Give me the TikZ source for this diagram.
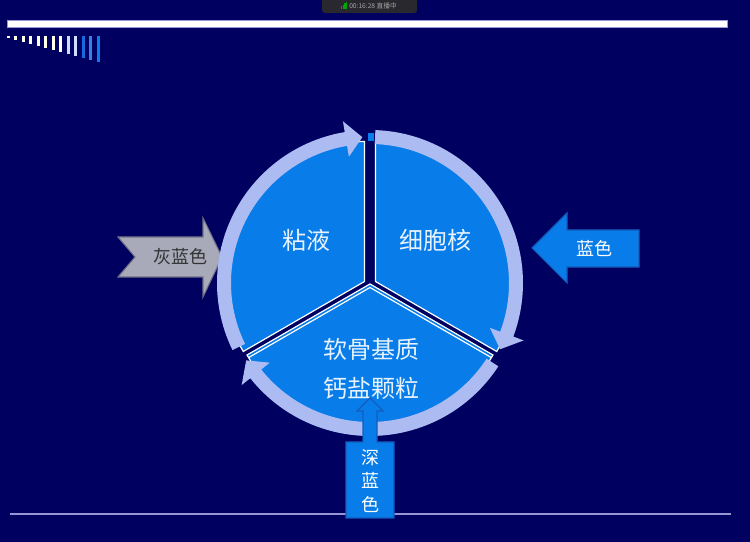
\documentclass[tikz,border=0pt]{standalone}
\usepackage{fontspec}
\newfontfamily\cjk{Noto Sans CJK SC}
\usetikzlibrary{calc}
\definecolor{bgnavy}{RGB}{0,0,96}
\definecolor{secblue}{RGB}{8,124,232}
\definecolor{ringlav}{RGB}{172,188,242}
\definecolor{grayfill}{RGB}{168,170,186}
\definecolor{grayedge}{RGB}{112,112,134}
\definecolor{blueedge}{RGB}{20,92,188}
\definecolor{lavline}{RGB}{150,150,215}
\definecolor{cream}{RGB}{255,255,232}
\definecolor{paleblue}{RGB}{205,220,255}
\definecolor{barblue}{RGB}{22,108,222}
\definecolor{statusgray}{RGB}{40,40,46}
\tikzset{
    sector/.style={fill=secblue, draw=white, line width=0.9pt},
    ringarc/.style={fill=ringlav},
    seclabel/.style={font=\cjk\fontsize{18}{20}\selectfont, text=white!90!secblue},
    grayarrow/.style={fill=grayfill, draw=grayedge, line width=0.8pt},
    bluearrow/.style={fill=secblue, draw=blueedge, line width=0.8pt},
    graytag/.style={font=\cjk\fontsize{13.5}{16}\selectfont, text=black!80},
    bluetag/.style={font=\cjk\fontsize{13.5}{17.6}\selectfont, text=white, align=center}
}
% curved ring arrow: start angle, tip angle (clockwise)
\newcommand{\ringarrow}[2]{%
  \fill[ringarc] (#1:153) arc[start angle=#1, end angle=#2+6.5, radius=153]
    -- (#2+6.5:164) -- (#2:146) -- (#2+6.5:128) -- (#2+6.5:139)
    arc[start angle=#2+6.5, end angle=#1, radius=139] -- cycle;}

\begin{document}
\begin{tikzpicture}[x=0.75pt, y=0.75pt]
    \useasboundingbox (0,0) rectangle (750,542);
    \fill[bgnavy] (0,0) rectangle (750,542);
    % recording overlay
    \fill[statusgray, rounded corners=2pt] (322,529) rectangle (417,546);
    \foreach \i in {0,1,2,3}
        \fill[green!65!black] ({341+1.7*\i},533) rectangle ++(1.2,{2.5+1.5*\i});
    \node[font=\cjk\fontsize{5}{6}\selectfont, text=gray!70, anchor=west, inner sep=0pt] (clock) at (349,536) {00:16:28 直播中};
    % title bar and steps
    \filldraw[fill=white, draw=lavline, line width=0.5pt] (7,515) rectangle (727,522);
    \foreach \i/\c in {0/cream,1/cream,2/cream,3/cream,4/cream,5/cream,6/cream,7/cream,8/paleblue,9/paleblue,10/barblue,11/barblue!85!white,12/secblue}
        \fill[\c] ({6.5+7.5*\i},506) rectangle ++(3,{-2-2*\i});
    \draw[lavline, line width=1.1pt] (10,28) -- (731,28);

    \coordinate (C) at (370,259);
    \draw[grayarrow] (118,305) -- (135,285) -- (118,265) -- (203,265) -- (203,245) -- (222,285) -- (203,324) -- (203,305) -- cycle;
    \begin{scope}[shift={(C)}]
        \filldraw[sector] (-5.5,1.5) -- ++(90:140) arc[start angle=90, end angle=210, radius=140] -- cycle;
        \filldraw[sector] (5.5,1.5) -- ++(-30:140) arc[start angle=-30, end angle=90, radius=140] -- cycle;
        \filldraw[sector] (0,-1) -- ++(210:142) arc[start angle=210, end angle=330, radius=142] -- cycle;
        \draw[white, line width=0.9pt] ($(0,-4.5)+(210:140)$) -- (0,-4.5) -- ++(330:140);
        \fill[secblue] (-2,142) rectangle (4,150);
        \ringarrow{206}{93}
        \ringarrow{88}{-27}
        \ringarrow{-33}{-148}
    \end{scope}

    \node[seclabel] (mucus) at (306,302) {粘液};
    \node[seclabel] (nucleus) at (435,302) {细胞核};
    \node[seclabel] (matrix) at (371,193) {软骨基质};
    \node[seclabel] (granule) at (371,154) {钙盐颗粒};
    \node[graytag] (grayblue) at (180,285) {灰蓝色};

    \draw[bluearrow] (532,294) -- (567,329) -- (567,312) -- (639,312) -- (639,275) -- (567,275) -- (567,259) -- cycle;
    \node[bluetag] (blue) at (594,294) {蓝色};
    \draw[bluearrow] (346,24) -- (346,100) -- (363,100) -- (363,131) -- (357,131) -- (370,144) -- (383,131) -- (377,131) -- (377,100) -- (394,100) -- (394,24) -- cycle;
    \node[bluetag] (deepblue) at (370,61) {深\\蓝\\色};
\end{tikzpicture}
\end{document}
